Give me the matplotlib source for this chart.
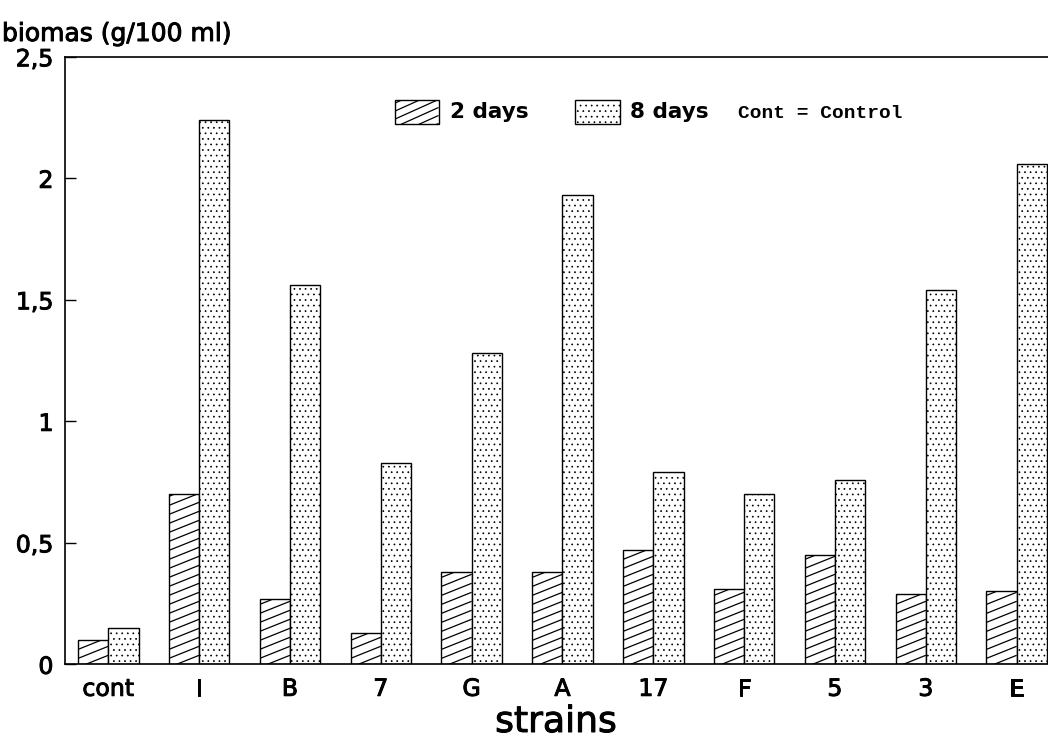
import numpy as np
import matplotlib
matplotlib.use("Agg")
import matplotlib.pyplot as plt
import matplotlib.patheffects as pe
from matplotlib.collections import LineCollection
from matplotlib.patches import Rectangle
from matplotlib.transforms import IdentityTransform

# Data (biomass, g/100 ml)
strains = ["cont", "I", "B", "7", "G", "A", "17", "F", "5", "3", "E"]
days2 = [0.10, 0.70, 0.27, 0.13, 0.38, 0.38, 0.47, 0.31, 0.45, 0.29, 0.30]
days8 = [0.15, 2.24, 1.56, 0.83, 1.28, 1.93, 0.79, 0.70, 0.76, 1.54, 2.06]
yticks = [0, 0.5, 1, 1.5, 2, 2.5]
ytick_labels = ["0", "0,5", "1", "1,5", "2", "2,5"]

plt.rcParams['font.family'] = ['DejaVu Sans']
plt.rcParams['patch.force_edgecolor'] = True
plt.rcParams['patch.edgecolor'] = 'black'
plt.rcParams['hatch.color'] = '#8c8c8c'
plt.rcParams['hatch.linewidth'] = 0.5

heavy = [pe.withStroke(linewidth=0.7, foreground='black')]

fig = plt.figure(figsize=(10.48, 7.51), dpi=100)
ax = fig.add_axes([64.5 / 1048, 1 - 664.3 / 751, 1 - 64.5 / 1048, (664.3 - 56.8) / 751])

x = np.arange(len(strains))
w = 0.333
bars2 = ax.bar(x - w / 2, days2, w, facecolor='white', linewidth=1.0)
bars8 = ax.bar(x + w / 2, days8, w, facecolor='white', linewidth=1.0, hatch='...')

ax.set_xlim(-0.482, 10.345)
ax.set_ylim(0, 2.5)


def shallow_hatch(patch, slope=0.4, step=9.0):
    # diagonal hatch at a low angle, drawn in pixels and clipped to the patch
    bb = patch.get_window_extent()
    segs = []
    span = bb.width * slope
    for c in np.arange(bb.y0 - span, bb.y1 + step, step):
        segs.append([(bb.x0, c), (bb.x1, c + span)])
    lc = LineCollection(segs, colors='black', linewidths=0.9, transform=IdentityTransform())
    fig.add_artist(lc)
    lc.set_clip_path(patch)


for b in bars2:
    shallow_hatch(b)

# axes styling
ax.spines['right'].set_visible(False)
for s in ['left', 'top', 'bottom']:
    ax.spines[s].set_linewidth(1.2)
ax.set_yticks(yticks)
ax.set_yticklabels(ytick_labels, fontsize=17)
ax.tick_params(axis='y', direction='in', length=8, width=1, pad=8)
ax.set_xticks(x)
ax.set_xticklabels(strains, fontsize=17)
ax.tick_params(axis='x', length=0, pad=9)
for t in ax.get_xticklabels() + ax.get_yticklabels():
    t.set_path_effects(heavy)

fig.text(2 / 1048, 1 - 34 / 751, "biomas (g/100 ml)", fontsize=18, va='center', ha='left',
         path_effects=heavy)
fig.text(556 / 1048, 1 - 722 / 751, "strains", fontsize=26, va='center', ha='center',
         path_effects=heavy)

# legend drawn in figure pixels
leg2 = Rectangle((394.5 / 1048, 1 - 123.5 / 751), 44 / 1048, 24 / 751, transform=fig.transFigure,
                 facecolor='white', edgecolor='black', linewidth=1.0)
fig.add_artist(leg2)
shallow_hatch(leg2, slope=0.45, step=8.0)
leg8 = Rectangle((575 / 1048, 1 - 123.5 / 751), 45 / 1048, 24 / 751, transform=fig.transFigure,
                 facecolor='white', linewidth=1.0, hatch='...')
fig.add_artist(leg8)
fig.text(450 / 1048, 1 - 112 / 751, "2 days", fontsize=15.5, fontweight='bold', va='center', ha='left')
fig.text(630 / 1048, 1 - 112 / 751, "8 days", fontsize=15.5, fontweight='bold', va='center', ha='left')
fig.text(738 / 1048, 1 - 113 / 751, "Cont = Control", fontsize=14, fontweight='bold',
         family='Liberation Mono', va='center', ha='left')

fig.savefig("out.png", dpi=100)
